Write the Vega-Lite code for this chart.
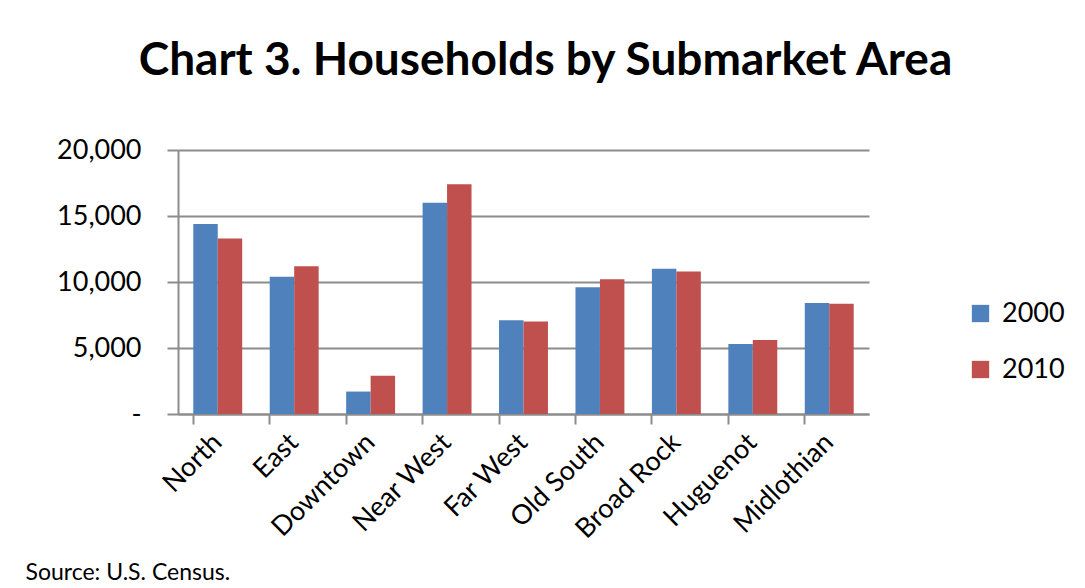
{
  "$schema": "https://vega.github.io/schema/vega-lite/v6.json",
  "autosize": "none",
  "width": 691,
  "height": 264,
  "padding": {"left": 178, "top": 150, "right": 216, "bottom": 174},
  "background": "white",
  "title": {
    "text": "Chart 3. Households by Submarket Area",
    "font": "Lato",
    "fontWeight": "bold",
    "fontSize": 46,
    "color": "black",
    "anchor": "middle",
    "offset": 10,
    "dy": 122,
    "dx": 22
  },
  "data": {
    "values": [
      {"area": "North", "year": "2000", "households": 14400},
      {"area": "North", "year": "2010", "households": 13300},
      {"area": "East", "year": "2000", "households": 10400},
      {"area": "East", "year": "2010", "households": 11200},
      {"area": "Downtown", "year": "2000", "households": 1700},
      {"area": "Downtown", "year": "2010", "households": 2900},
      {"area": "Near West", "year": "2000", "households": 16000},
      {"area": "Near West", "year": "2010", "households": 17400},
      {"area": "Far West", "year": "2000", "households": 7100},
      {"area": "Far West", "year": "2010", "households": 7000},
      {"area": "Old South", "year": "2000", "households": 9600},
      {"area": "Old South", "year": "2010", "households": 10200},
      {"area": "Broad Rock", "year": "2000", "households": 11000},
      {"area": "Broad Rock", "year": "2010", "households": 10800},
      {"area": "Huguenot", "year": "2000", "households": 5300},
      {"area": "Huguenot", "year": "2010", "households": 5600},
      {"area": "Midlothian", "year": "2000", "households": 8400},
      {"area": "Midlothian", "year": "2010", "households": 8350}
    ]
  },
  "layer": [
    {
      "mark": {"type": "bar"},
      "encoding": {
        "x": {
          "field": "area",
          "type": "nominal",
          "sort": null,
          "scale": {"paddingInner": 0.36, "paddingOuter": 0.2},
          "axis": {
            "title": "Source: U.S. Census.",
            "titleFont": "Lato",
            "titleFontSize": 23,
            "titleFontWeight": "normal",
            "titleColor": "black",
            "titleX": -153,
            "titleY": 165,
            "titleAlign": "left",
            "titleBaseline": "alphabetic",
            "titleAngle": 0,
            "labelAngle": -45,
            "labelAlign": "right",
            "labelBaseline": "middle",
            "labelFont": "Lato",
            "labelFontSize": 27,
            "labelColor": "black",
            "labelPadding": 24,
            "ticks": false,
            "domain": true,
            "domainColor": "#8c8c8c",
            "domainWidth": 2,
            "grid": false
          }
        },
        "xOffset": {"field": "year", "type": "nominal"},
        "y": {
          "field": "households",
          "type": "quantitative",
          "scale": {"domain": [0, 20000], "nice": false},
          "axis": {
            "title": null,
            "values": [0, 5000, 10000, 15000, 20000],
            "labelExpr": "datum.value == 0 ? '-' : format(datum.value, ',')",
            "labelFont": "Lato",
            "labelFontSize": 27,
            "labelColor": "black",
            "labelPadding": 26,
            "tickSize": 11,
            "tickColor": "#8c8c8c",
            "tickWidth": 2,
            "domainColor": "#8c8c8c",
            "domainWidth": 2,
            "gridColor": "#8c8c8c",
            "gridWidth": 2
          }
        },
        "color": {
          "field": "year",
          "type": "nominal",
          "scale": {"range": ["#4F81BD", "#C0504D"]},
          "legend": {
            "title": null,
            "orient": "none",
            "legendX": 789,
            "legendY": 150,
            "symbolType": "square",
            "symbolSize": 300,
            "symbolStrokeWidth": 0,
            "symbolOpacity": 1,
            "labelFont": "Lato",
            "labelFontSize": 27,
            "labelColor": "black",
            "labelOffset": 8,
            "rowPadding": 28
          }
        }
      }
    },
    {
      "mark": {"type": "bar", "opacity": 0},
      "encoding": {
        "x": {
          "field": "area",
          "type": "nominal",
          "sort": null,
          "axis": {
            "orient": "bottom",
            "title": null,
            "labels": false,
            "domain": false,
            "grid": false,
            "ticks": true,
            "bandPosition": 0,
            "tickSize": 10,
            "tickColor": "#8c8c8c",
            "tickWidth": 2
          }
        },
        "y": {"field": "households", "type": "quantitative"}
      }
    }
  ],
  "resolve": {"axis": {"x": "independent"}},
  "config": {"view": {"stroke": null}}
}
